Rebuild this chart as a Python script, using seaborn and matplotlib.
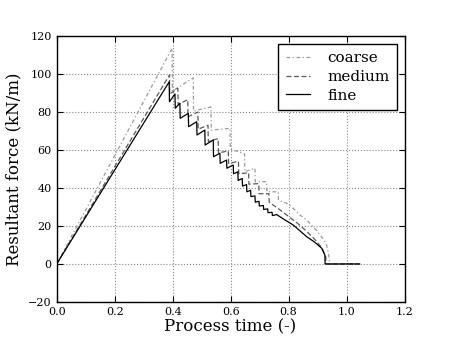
import pandas as pd
import matplotlib
matplotlib.use("Agg")
import matplotlib.pyplot as plt
import seaborn as sns

# coarse mesh (dash-dot)
coarse_x = [0.000, 0.398, 0.399, 0.471, 0.472, 0.532, 0.533, 0.598, 0.599,
            0.648, 0.649, 0.684, 0.685, 0.724, 0.725, 0.764, 0.765, 0.800,
            0.816, 0.839, 0.862, 0.879, 0.900, 0.920, 0.931, 0.938, 0.942, 1.045]
coarse_y = [0.0, 113.5, 91.0, 98.0, 80.5, 82.7, 70.5, 71.4, 60.5,
            58.0, 48.6, 50.4, 43.3, 43.3, 38.0, 38.0, 33.7, 31.5,
            29.3, 25.8, 23.2, 20.5, 17.0, 13.0, 10.0, 5.0, 0.0, 0.0]

# medium mesh (dashed)
medium_x = [0.000, 0.389, 0.390, 0.418, 0.419, 0.452, 0.453, 0.487, 0.488,
            0.522, 0.523, 0.557, 0.558, 0.592, 0.593, 0.627, 0.628, 0.662,
            0.663, 0.697, 0.698, 0.732, 0.733, 0.770, 0.800, 0.830, 0.860,
            0.890, 0.915, 0.928, 0.930, 1.045]
medium_y = [0.0, 99.5, 89.5, 92.5, 84.0, 86.5, 77.5, 80.0, 71.0,
            73.0, 64.5, 66.0, 58.5, 59.5, 53.0, 54.0, 47.5, 48.0,
            42.0, 42.3, 37.0, 37.0, 32.5, 28.5, 25.0, 21.5, 17.5,
            13.0, 8.5, 4.0, 0.0, 0.0]

# fine mesh (solid)
fine_x = [0.000, 0.388, 0.389, 0.408, 0.409, 0.425, 0.426, 0.454, 0.455,
          0.483, 0.484, 0.511, 0.512, 0.540, 0.541, 0.563, 0.564, 0.586,
          0.587, 0.609, 0.610, 0.625, 0.626, 0.640, 0.641, 0.655, 0.656,
          0.669, 0.670, 0.684, 0.685, 0.698, 0.699, 0.713, 0.714, 0.728,
          0.729, 0.743, 0.744, 0.759, 0.787, 0.816, 0.862, 0.890, 0.914,
          0.925, 0.926, 1.045]
fine_y = [0.0, 95.9, 85.4, 89.5, 82.0, 84.6, 76.7, 79.3, 72.3,
          74.9, 67.9, 70.5, 62.6, 65.3, 56.5, 58.3, 53.0, 54.7,
          50.4, 52.1, 47.5, 48.5, 44.0, 45.0, 41.0, 41.8, 38.0,
          38.8, 35.5, 35.8, 32.5, 33.0, 30.5, 30.8, 28.7, 29.0,
          27.0, 27.2, 25.5, 26.0, 23.2, 20.5, 14.4, 11.5, 8.3,
          4.7, 0.0, 0.0]

x_ticks = [0.0, 0.2, 0.4, 0.6, 0.8, 1.0, 1.2]
y_ticks = [-20, 0, 20, 40, 60, 80, 100, 120]

plt.rcParams["font.family"] = ["DejaVu Serif"]

fig = plt.figure(figsize=(4.5, 3.37), dpi=100)
ax = fig.add_axes([0.126, 0.104, 0.773, 0.789])

series = [
    ("coarse", coarse_x, coarse_y, "#9a9a9a", (0, (3, 2, 1, 2))),
    ("medium", medium_x, medium_y, "#5a5a5a", (0, (4, 2))),
    ("fine", fine_x, fine_y, "black", "-"),
]
for name, xs, ys, col, ls in series:
    df = pd.DataFrame({"t": xs, "f": ys})
    sns.lineplot(data=df, x="t", y="f", ax=ax, color=col, linestyle=ls,
                 linewidth=0.9, label=name, sort=False, estimator=None)

ax.set_xlim(0.0, 1.2)
ax.set_ylim(-20, 120)
ax.set_xticks(x_ticks)
ax.set_yticks(y_ticks)
ax.set_xticklabels([f"{v:.1f}" for v in x_ticks])
ax.set_yticklabels([f"{v}" if v >= 0 else f"\u2212{abs(v)}" for v in y_ticks])
ax.tick_params(direction="in", top=True, right=True, labelsize=8, length=4)
ax.grid(True, color="#888888", linestyle=":", linewidth=0.8)
for sp in ax.spines.values():
    sp.set_linewidth(1.0)
    sp.set_color("black")

ax.set_xlabel("Process time (-)", fontsize=12, labelpad=1)
ax.set_ylabel("Resultant force (kN/m)", fontsize=12, labelpad=4)

leg = ax.legend(loc="upper right", fontsize=11, fancybox=False,
                framealpha=1.0, edgecolor="black", handlelength=1.6,
                handletextpad=1.1, labelspacing=0.3, borderpad=0.5,
                borderaxespad=0.5)
leg.get_frame().set_linewidth(1.0)

fig.savefig("out.png", dpi=100)
